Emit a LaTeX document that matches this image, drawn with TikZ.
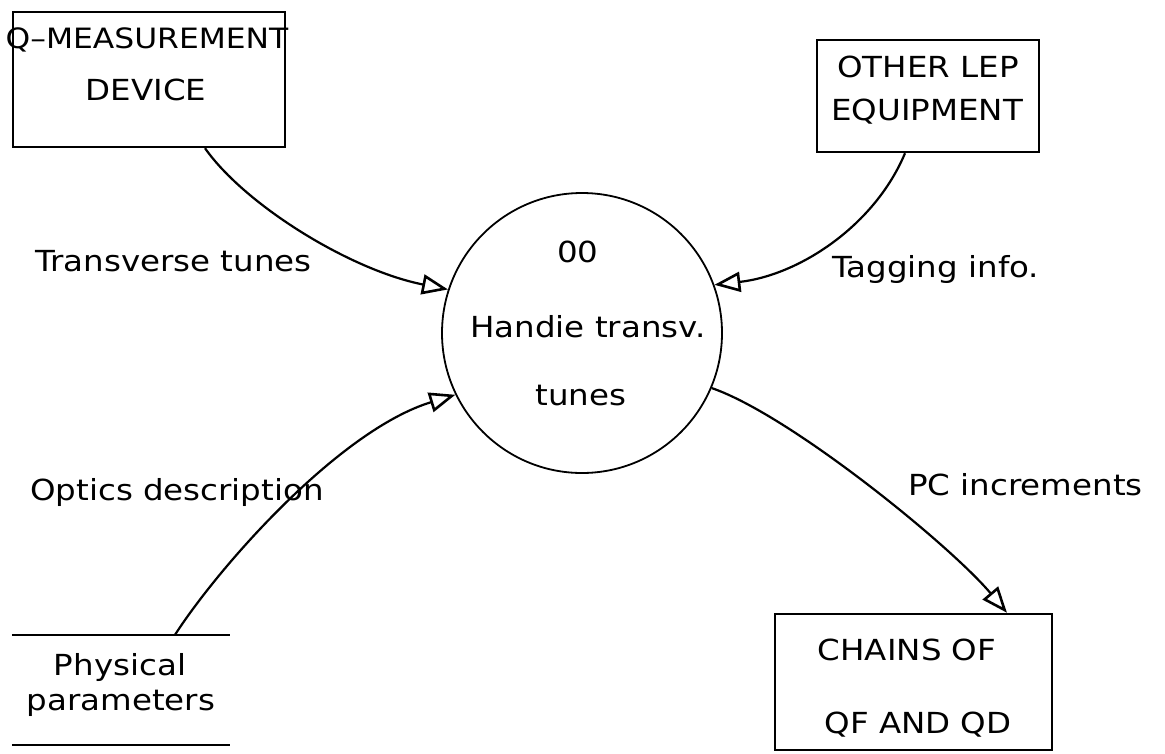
\documentclass[tikz,border=0pt]{standalone}
\usepackage{fontspec}
\setmainfont{DejaVu Sans}[FakeStretch=1.12]
\usetikzlibrary{arrows.meta}
\begin{document}
\begin{tikzpicture}[x=1pt,y=-1pt,
  box/.style={draw, line width=2.4pt, inner sep=0pt},
  txt/.style={font=\fontsize{29}{35}\selectfont, inner sep=0pt, anchor=base},
  lbl/.style={font=\fontsize{29}{35}\selectfont, inner sep=0pt, anchor=base west},
  flow/.style={line width=2.2pt, -{Triangle[open, length=26pt, width=20pt, line width=2.6pt]}},
]
\useasboundingbox (0,0) rectangle (1165,753);
% Q-measurement device
\node[box, minimum width=272pt, minimum height=135pt] (qm) at (149,79.5) {};
\node[txt, font=\fontsize{28}{34}\selectfont] (qm1) at (147,48) {Q–MEASUREMENT};
\node[txt] (qm2) at (146,100) {DEVICE};
% other LEP equipment
\node[box, minimum width=222pt, minimum height=112pt] (ol) at (928,96) {};
\node[txt] (ol1) at (928,77) {OTHER LEP};
\node[txt] (ol2) at (927,120) {EQUIPMENT};
% process
\node[circle, draw, line width=1.8pt, minimum size=280pt, inner sep=0pt] (proc) at (582,333) {};
\node[txt] (p1) at (578,262) {00};
\node[txt] (p2) at (588,337) {Handie transv.};
\node[txt] (p3) at (581,405) {tunes};
% store
\node[minimum width=218pt, minimum height=110pt, inner sep=0pt] (store) at (121,690) {};
\draw[line width=2.4pt] (store.north west) -- (store.north east) (store.south west) -- (store.south east);
\node[txt] (s1) at (120,675) {Physical};
\node[txt] (s2) at (121,710) {parameters};
% chains
\node[box, minimum width=277pt, minimum height=136pt] (ch) at (913.5,682) {};
\node[txt] (c1) at (907,660) {CHAINS OF};
\node[txt] (c2) at (918,733) {QF AND QD};
% labels
\node[lbl] (l1) at (35,271) {Transverse tunes};
\node[lbl] (l2) at (832,277) {Tagging info.};
\node[lbl] (l3) at (30,500) {Optics description};
\node[lbl] (l4) at (908,495) {PC increments};
% flows
\draw[flow] ([xshift=56pt]qm.south) .. controls (245,205) and (350,270) .. (proc.162);
\draw[flow] ([xshift=-23pt]ol.south) .. controls (875,225) and (800,275) .. (proc.20);
\draw[flow] ([xshift=54pt]store.north) .. controls (220,565) and (340,430) .. (proc.206);
\draw[flow] (proc.337) .. controls (790,415) and (950,545) .. ([xshift=93.5pt]ch.north);
\end{tikzpicture}
\end{document}
